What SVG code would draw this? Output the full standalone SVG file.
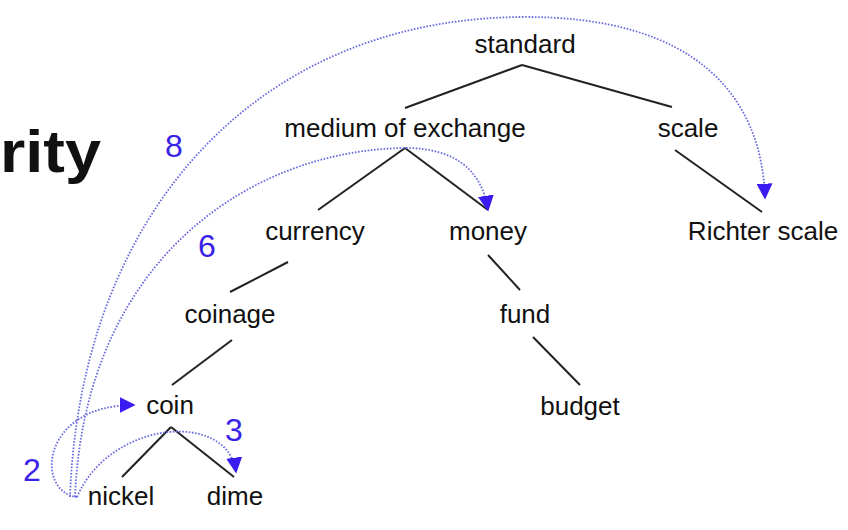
<svg xmlns="http://www.w3.org/2000/svg" width="848" height="530" viewBox="0 0 848 530">
<defs>
<style>
.t{font-family:"Liberation Sans",Arial,sans-serif;font-size:26px;fill:#111;text-anchor:middle}
.n{font-family:"Liberation Sans",Arial,sans-serif;font-size:32px;fill:#3a22e6;text-anchor:middle}
.e{stroke:#222;stroke-width:2;fill:none}
.d{stroke:#6a6ae0;stroke-width:1.8;stroke-dasharray:1.6 1.6;fill:none;marker-end:url(#ah)}
</style>
<marker id="ah" viewBox="0 0 10 10" refX="9" refY="5" markerWidth="16" markerHeight="16" markerUnits="userSpaceOnUse" orient="auto">
<path d="M0,0 L10,5 L0,10 z" fill="#3a1cf0"/>
</marker>
</defs>
<rect width="848" height="530" fill="#fff"/>
<text x="0" y="172" textLength="101" lengthAdjust="spacingAndGlyphs" style="font-family:'Liberation Sans',Arial,sans-serif;font-weight:bold;font-size:60px;fill:#111">rity</text>
<g id="edges">
<line class="e" x1="522" y1="65" x2="405" y2="108"/>
<line class="e" x1="522" y1="65" x2="672" y2="107"/>
<line class="e" x1="405" y1="148" x2="318" y2="210"/>
<line class="e" x1="405" y1="148" x2="488" y2="210"/>
<line class="e" x1="675" y1="150" x2="762" y2="212"/>
<line class="e" x1="288" y1="262" x2="230" y2="292"/>
<line class="e" x1="488" y1="255" x2="520" y2="290"/>
<line class="e" x1="232" y1="340" x2="172" y2="385"/>
<line class="e" x1="533" y1="337" x2="580" y2="385"/>
<line class="e" x1="171" y1="427" x2="122" y2="477"/>
<line class="e" x1="171" y1="427" x2="234" y2="477"/>
</g>
<g id="paths">
<path class="d" d="M77,497 C35,492 40,405 134,405"/>
<path class="d" d="M77,497 C110,420 228,410 236,472"/>
<path class="d" d="M75,497 C85,260 250,150 405,148 C455,148 482,170 488,210"/>
<path class="d" d="M70,497 C80,220 250,20 520,17 C700,15 762,100 765,198"/>
</g>
<g id="standard"><text class="t" x="525" y="53">standard</text></g>
<g id="medium"><text class="t" x="405" y="137">medium of exchange</text></g>
<g id="scale"><text class="t" x="688" y="137">scale</text></g>
<g id="currency"><text class="t" x="315" y="240">currency</text></g>
<g id="money"><text class="t" x="488" y="240">money</text></g>
<g id="richter"><text class="t" x="763" y="240">Richter scale</text></g>
<g id="coinage"><text class="t" x="230" y="323">coinage</text></g>
<g id="fund"><text class="t" x="525" y="323">fund</text></g>
<g id="budget"><text class="t" x="580" y="415">budget</text></g>
<g id="coin"><text class="t" x="170" y="414">coin</text></g>
<g id="nickel"><text class="t" x="121" y="505">nickel</text></g>
<g id="dime"><text class="t" x="235" y="505">dime</text></g>
<g id="labels">
<text class="n" x="174" y="157">8</text>
<text class="n" x="207" y="257">6</text>
<text class="n" x="32" y="481">2</text>
<text class="n" x="234" y="441">3</text>
</g>
</svg>
